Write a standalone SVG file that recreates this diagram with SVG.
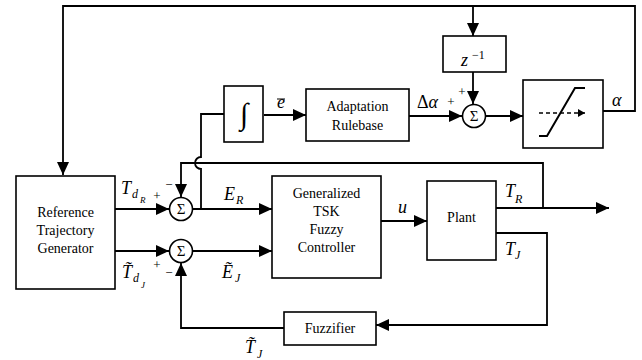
<svg xmlns="http://www.w3.org/2000/svg" width="642" height="360" viewBox="0 0 642 360">
<style>
text{font-family:'Liberation Serif','Tinos','Times New Roman','Times','Nimbus Roman','FreeSerif','Noto Serif','DejaVu Serif',serif}
.box{fill:#fff;stroke:#000;stroke-width:1.6}
.ln{fill:none;stroke:#000;stroke-width:1.8}
.t{font-size:14px;text-anchor:middle;fill:#000}
.m{font-style:italic;font-size:18px;fill:#000}
.s{font-style:italic;font-size:12px;fill:#000}
.ss{font-style:italic;font-size:9px;fill:#000}
.p{font-size:13px;fill:#000;text-anchor:middle}
.sig{font-size:15px;text-anchor:middle;fill:#000}
</style>
<defs>
<marker id="arr" markerUnits="userSpaceOnUse" markerWidth="14" markerHeight="12" refX="13" refY="6" orient="auto">
<path d="M0,0 L13,6 L0,12 z" fill="#000"/>
</marker>
<marker id="sarr" markerUnits="userSpaceOnUse" markerWidth="8" markerHeight="8" refX="7" refY="4" orient="auto">
<path d="M0,0 L7,4 L0,8 z" fill="#000"/>
</marker>
</defs>
<rect width="642" height="360" fill="#fff"/>

<g id="connectors">
<path class="ln" d="M603,111 H635 V6 H63 V175" marker-end="url(#arr)"/>
<path class="ln" d="M473,6 V36" marker-end="url(#arr)"/>
<path class="ln" d="M473,72 V104" marker-end="url(#arr)"/>
<path class="ln" d="M264,115 H306" marker-end="url(#arr)"/>
<path class="ln" d="M409,116 H462" marker-end="url(#arr)"/>
<path class="ln" d="M486,116 H523" marker-end="url(#arr)"/>
<path class="ln" d="M115,209 H169" marker-end="url(#arr)"/>
<path class="ln" d="M115,251 H169" marker-end="url(#arr)"/>
<path class="ln" d="M193,209 H272" marker-end="url(#arr)"/>
<path class="ln" d="M193,251 H272" marker-end="url(#arr)"/>
<path class="ln" d="M201,209 V169 A6,6 0 0 1 201,157 V114 H224"/>
<path class="ln" d="M543,208 V163 H181 V197" marker-end="url(#arr)"/>
<path class="ln" d="M496,208 H609" marker-end="url(#arr)"/>
<path class="ln" d="M381,221 H427" marker-end="url(#arr)"/>
<path class="ln" d="M496,233 H547 V325 H376" marker-end="url(#arr)"/>
<path class="ln" d="M284,328 H181 V263" marker-end="url(#arr)"/>
</g>

<g id="ref-gen">
<rect class="box" x="16" y="176" width="99" height="113"/>
<text class="t" x="65.5" y="217">Reference</text>
<text class="t" x="65.5" y="235">Trajectory</text>
<text class="t" x="65.5" y="253">Generator</text>
</g>

<g id="sum-r">
<circle class="box" cx="181" cy="209" r="11.5"/>
<text class="sig" x="181" y="214">Σ</text>
</g>
<g id="sum-j">
<circle class="box" cx="181" cy="251" r="11.5"/>
<text class="sig" x="181" y="256">Σ</text>
</g>

<g id="integrator">
<rect class="box" x="224" y="86" width="39" height="56"/>
<text x="244" y="124" style="font-size:30px;font-weight:bold;text-anchor:middle">∫</text>
</g>

<g id="adaptation">
<rect class="box" x="306" y="89" width="103" height="52"/>
<text class="t" x="357.5" y="111">Adaptation</text>
<text class="t" x="357.5" y="130">Rulebase</text>
</g>

<g id="delay">
<rect class="box" x="443" y="36" width="63" height="36"/>
<text class="m" x="461" y="66">z</text>
<text x="472" y="59" style="font-size:12px">−1</text>
</g>

<g id="sum-a">
<circle class="box" cx="474" cy="116" r="11.5"/>
<text class="sig" x="474" y="121">Σ</text>
</g>

<g id="saturation">
<rect class="box" x="523" y="80" width="80" height="68"/>
<path fill="none" stroke="#000" stroke-width="2" d="M539,136 H547 L575,88 H585"/>
<path fill="none" stroke="#000" stroke-width="1.5" stroke-dasharray="4,3" d="M539,113 H585" marker-end="url(#sarr)"/>
</g>

<g id="controller">
<rect class="box" x="272" y="176" width="109" height="102"/>
<text class="t" x="326.5" y="198">Generalized</text>
<text class="t" x="326.5" y="216">TSK</text>
<text class="t" x="326.5" y="234">Fuzzy</text>
<text class="t" x="326.5" y="252">Controller</text>
</g>

<g id="plant">
<rect class="box" x="427" y="181" width="69" height="79"/>
<text class="t" x="461.5" y="222">Plant</text>
</g>

<g id="fuzzifier">
<rect class="box" x="284" y="312" width="92" height="33"/>
<text class="t" x="330" y="333">Fuzzifier</text>
</g>

<g id="labels">
<text class="m" x="121" y="194">T</text><text class="s" x="132" y="198">d</text><text class="ss" x="140" y="203">R</text>
<text class="p" x="157" y="200">+</text><text class="p" x="169" y="189">−</text>
<text class="m" x="122" y="278">T̃</text><text class="s" x="133" y="282">d</text><text class="ss" x="141" y="288">J</text>
<text class="p" x="157" y="269">+</text><text class="p" x="169" y="277">−</text>
<text class="m" x="224" y="200">E</text><text class="s" x="236" y="204">R</text>
<text class="m" x="222" y="278">Ẽ</text><text class="s" x="235" y="282">J</text>
<text class="m" x="245" y="353">T̃</text><text class="s" x="257" y="358">J</text>
<text class="m" x="398" y="213">u</text>
<text class="m" x="505" y="197">T</text><text class="s" x="515" y="203">R</text>
<text class="m" x="505" y="255">T</text><text class="s" x="515" y="259">J</text>
<text class="m" x="277" y="108">e</text><path d="M277,99 H285" stroke="#000" stroke-width="1"/>
<text x="417" y="108" style="font-size:18px">Δ<tspan font-style="italic">α</tspan></text>
<text class="p" x="451" y="106">+</text><text class="p" x="462" y="96">+</text>
<text class="m" x="612" y="106">α</text>
</g>
</svg>
